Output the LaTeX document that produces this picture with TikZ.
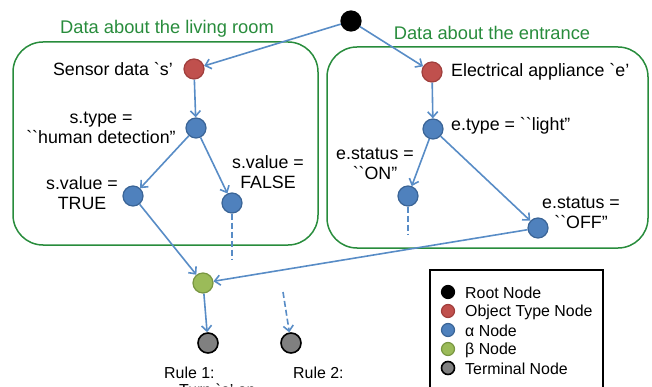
\documentclass[tikz,border=0pt]{standalone}
\usepackage{fontspec}
\setmainfont{Liberation Sans}[Ligatures=TeXOff]
\usetikzlibrary{arrows.meta}
\definecolor{alphablue}{RGB}{79,129,189}
\definecolor{alphabord}{RGB}{58,100,150}
\definecolor{objred}{RGB}{192,80,77}
\definecolor{objredb}{RGB}{160,62,60}
\definecolor{betagreen}{RGB}{155,187,89}
\definecolor{betabord}{RGB}{120,150,65}
\definecolor{termgray}{RGB}{128,128,128}
\definecolor{edgeblue}{RGB}{88,140,198}
\definecolor{groupgreen}{RGB}{40,140,60}
\begin{document}
\begin{tikzpicture}[x=1pt,y=-1pt,
  dot/.style={circle, minimum size=20pt, inner sep=0pt, line width=1.2pt},
  rootnode/.style={dot, fill=black, draw=black},
  objnode/.style={dot, fill=objred, draw=objredb},
  anode/.style={dot, fill=alphablue, draw=alphabord},
  bnode/.style={dot, fill=betagreen, draw=betabord},
  tnode/.style={dot, fill=termgray, draw=black, line width=1.6pt},
  legdot/.style={minimum size=13pt},
  conn/.style={draw=edgeblue, line width=1.6pt, -{Straight Barb[length=5.5pt,width=10pt]}},
  dashconn/.style={draw=edgeblue, line width=1.6pt, dash pattern=on 6pt off 3pt},
  lbl/.style={font=\fontsize{17.8}{20}\selectfont, align=center, inner sep=0pt},
  leglbl/.style={font=\fontsize{15.9}{18}\selectfont, anchor=west, inner sep=0pt},
  grplbl/.style={font=\fontsize{18.3}{20}\selectfont, text=groupgreen, inner sep=0pt},
  grp/.style={draw=groupgreen, line width=1.5pt, rounded corners=30pt},
]
\useasboundingbox (0,0) rectangle (652,387);

% group boxes
\draw[grp] (13,42) rectangle (318,245);
\draw[grp] (327,47) rectangle (648,248);
\node[grplbl] (g1) at (167,29) {Data about the living room};
\node[grplbl] (g2) at (492,33) {Data about the entrance};

% nodes
\node[rootnode] (root) at (351,21) {};
\node[objnode] (sensor) at (194,69) {};
\node[anode] (stype) at (196,128) {};
\node[anode] (strue) at (133,196) {};
\node[anode] (sfalse) at (232,203) {};
\node[objnode] (elec) at (432,72) {};
\node[anode] (etype) at (433,129) {};
\node[anode] (eon) at (408,196) {};
\node[anode] (eoff) at (538,228) {};
\node[bnode] (beta) at (203,283) {};
\node[tnode] (t1) at (208,343) {};
\node[tnode] (t2) at (291,343) {};
\coordinate (fend) at (232,260);
\coordinate (onend) at (408,234);
\coordinate (r2start) at (283,292);

% labels
\node[lbl, anchor=east] (lsensor) at (173,69) {Sensor data `s’};
\node[lbl] (lstype) at (101,128) {s.type =\\``human detection”};
\node[lbl] (ltrue) at (82,193) {s.value =\\TRUE};
\node[lbl] (lfalse) at (268,172) {s.value =\\FALSE};
\node[lbl, anchor=west] (lelec) at (451,72) {Electrical appliance `e’};
\node[lbl, anchor=west] (letype) at (451,126) {e.type = ``light”};
\node[lbl] (lon) at (375,164) {e.status =\\``ON”};
\node[lbl] (loff) at (581,213) {e.status =\\``OFF”};
\node[leglbl, anchor=north west, align=left, font=\fontsize{15.9}{17}\selectfont] (rule1) at (164,366.5) {Rule 1:\\\hspace*{15pt}Turn `e’ on};
\node[leglbl, anchor=north west] (rule2) at (293,366.5) {Rule 2:};

% connectors
\draw[conn] (root) -- (sensor);
\draw[conn] (root) -- (elec);
\draw[conn] (sensor) -- (stype);
\draw[conn] (stype) -- (strue);
\draw[conn] (stype) -- (sfalse);
\draw[conn] (strue) -- (beta);
\draw[conn] (eoff) -- (beta);
\draw[conn] (beta) -- (t1);
\draw[conn] (elec) -- (etype);
\draw[conn] (etype) -- (eon);
\draw[conn] (etype) -- (eoff);
\draw[dashconn] (sfalse) -- (fend);
\draw[dashconn] (eon) -- (onend);
\draw[dashconn, -{Straight Barb[length=5.5pt,width=10pt]}] (r2start) -- (t2);

% legend
\draw[black, line width=2pt] (430,400) -- (430,270) -- (603,270) -- (603,400);
\node[rootnode, legdot] (lg1) at (448,292) {};
\node[objnode, legdot] (lg2) at (448,311) {};
\node[anode, legdot] (lg3) at (448,330) {};
\node[bnode, legdot] (lg4) at (448,349) {};
\node[tnode, legdot] (lg5) at (448,368) {};
\node[leglbl] (lt1) at (465,293) {Root Node};
\node[leglbl] (lt2) at (465,312) {Object Type Node};
\node[leglbl] (lt3) at (465,331) {α Node};
\node[leglbl] (lt4) at (465,350) {β Node};
\node[leglbl] (lt5) at (465,369) {Terminal Node};
\end{tikzpicture}
\end{document}
